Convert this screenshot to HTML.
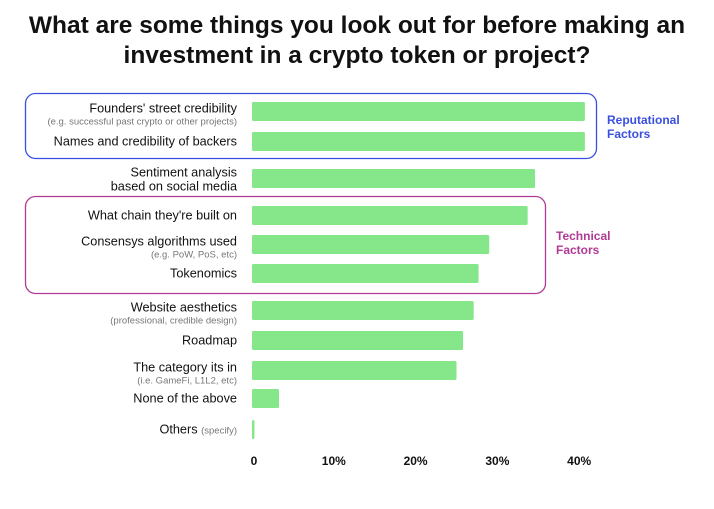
<!DOCTYPE html>
<html><head><meta charset="utf-8"><style>
body{margin:0;background:#fff;width:714px;height:504px;overflow:hidden;font-family:"Liberation Sans",sans-serif}
</style></head><body>
<svg width="714" height="504" font-family="Liberation Sans, sans-serif">
<text x="357" y="33" text-anchor="middle" font-size="24.5" font-weight="bold" fill="#111">What are some things you look out for before making an</text>
<text x="357" y="63" text-anchor="middle" font-size="24.5" font-weight="bold" fill="#111">investment in a crypto token or project?</text>
<rect x="25.5" y="93.5" width="571" height="65" rx="10" fill="none" stroke="#3a4fe0" stroke-width="1.3"/>
<rect x="25.5" y="196.5" width="520" height="97" rx="10" fill="none" stroke="#b03a94" stroke-width="1.3"/>
<text x="607" y="124" font-size="12" font-weight="bold" fill="#3a4fe0">Reputational</text>
<text x="607" y="138" font-size="12" font-weight="bold" fill="#3a4fe0">Factors</text>
<text x="556" y="240" font-size="12" font-weight="bold" fill="#b03a94">Technical</text>
<text x="556" y="254" font-size="12" font-weight="bold" fill="#b03a94">Factors</text>
<g id="bars"></g>
<g id="labels"></g>
<g id="ticks"></g>
</svg>
<script>
const categories=["Founders' street credibility","Names and credibility of backers","Sentiment analysis|based on social media","What chain they're built on","Consensys algorithms used","Tokenomics","Website aesthetics","Roadmap","The category its in","None of the above","Others"];
const subtitles=["(e.g. successful past crypto or other projects)","","","","(e.g. PoW, PoS, etc)","","(professional, credible design)","","(i.e. GameFi, L1L2, etc)","",""];
const values=[40.7,40.7,34.6,33.7,29.0,27.7,27.1,25.8,25.0,3.3,0.3];
const tickValues=[0,10,20,30,40];
const tickLabels=["0","10%","20%","30%","40%"];
const barTops=[102,132,169,206,235,264,301,331,361,389,420];
const ns="http://www.w3.org/2000/svg";
const x0=252, pxPer=8.18;
const xs=v=>x0+v*pxPer;
const gb=document.getElementById('bars'),gl=document.getElementById('labels'),gt=document.getElementById('ticks');
function t(parent,x,y,s,size,fill,weight,anchor){const e=document.createElementNS(ns,'text');e.setAttribute('x',x);e.setAttribute('y',y);e.setAttribute('font-size',size);e.setAttribute('fill',fill);if(weight)e.setAttribute('font-weight',weight);e.setAttribute('text-anchor',anchor||'end');e.textContent=s;parent.appendChild(e);return e;}
values.forEach((v,i)=>{
 const r=document.createElementNS(ns,'rect');
 r.setAttribute('x',x0);r.setAttribute('y',barTops[i]);r.setAttribute('width',Math.max(1,xs(v)-x0));r.setAttribute('height',19);r.setAttribute('rx',1.5);r.setAttribute('fill','#86e68a');
 
 
 gb.appendChild(r);
 const cy=barTops[i]+9.5;
 const parts=categories[i].split('|');
 let e;
 if(i===10){
  e=t(gl,237,cy+4,'',12.7,'#111','');
  const a=document.createElementNS(ns,'tspan');a.textContent='Others ';e.appendChild(a);
  const b=document.createElementNS(ns,'tspan');b.setAttribute('font-size','9.5');b.setAttribute('fill','#777');b.textContent='(specify)';e.appendChild(b);
 } else if(parts.length>1){
  e=t(gl,237,cy-2,parts[0],12.7,'#111','');
  const e2=t(gl,237,cy+12,parts[1],12.7,'#111','');
  
  
 } else if(subtitles[i]){
  e=t(gl,237,cy+1,parts[0],12.7,'#111','');
  const s=t(gl,237,cy+13,subtitles[i],9.5,'#777','');
  
  
 } else {
  e=t(gl,237,cy+4,parts[0],12.7,'#111','');
 }
 
 
});
tickValues.forEach((v,i)=>{
 const e=t(gt,xs(v)+(i===0?2:0),465,tickLabels[i],12,'#111','bold','middle');
 
 
});
</script>
</body></html>
